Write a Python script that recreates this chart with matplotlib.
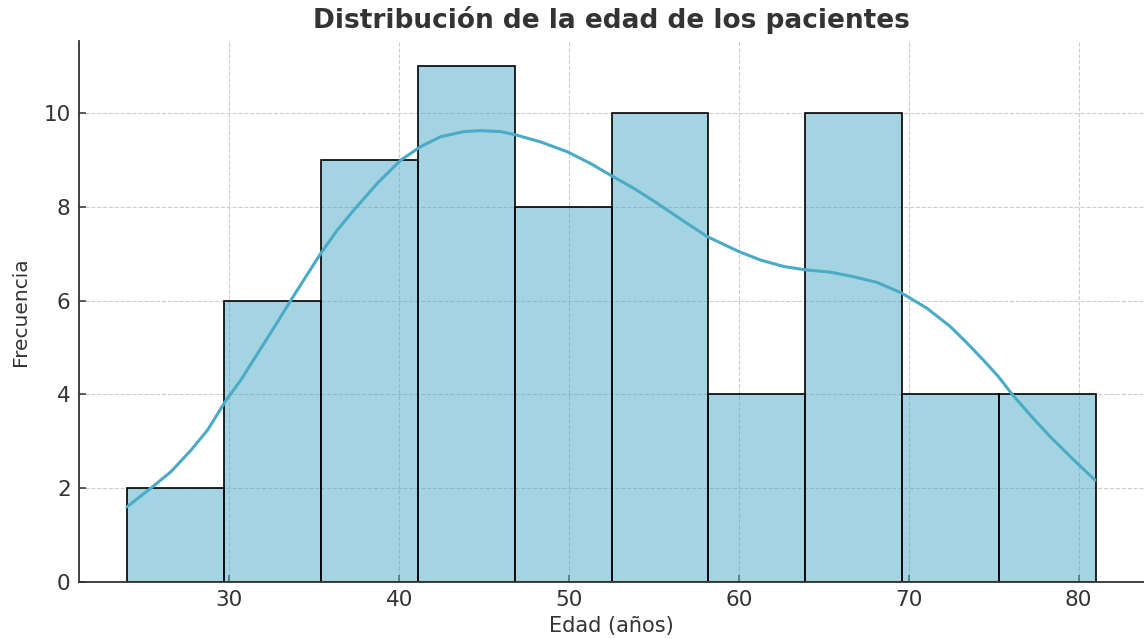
import matplotlib
matplotlib.use('Agg')
import matplotlib.pyplot as plt
import numpy as np

# Histogram data
bin_edges = [24.0, 29.7, 35.4, 41.1, 46.8, 52.5, 58.2, 63.9, 69.6, 75.3, 81.0]
counts = [2, 6, 9, 11, 8, 10, 4, 10, 4, 4]

# KDE curve
kde_x = [23.97, 25.38, 26.56, 27.74, 28.72, 29.74, 30.68, 31.85, 32.84, 33.62,
         34.50, 35.38, 36.36, 37.34, 38.72, 40.09, 41.26, 42.44, 43.81, 44.79,
         45.97, 46.85, 48.32, 49.89, 51.26, 52.44, 53.81, 55.19, 56.66, 58.13,
         59.99, 61.26, 62.64, 63.91, 65.38, 66.65, 68.13, 69.55, 71.07, 72.44,
         73.42, 74.40, 75.28, 76.07, 77.25, 78.32, 79.69, 80.97]
kde_y = [1.60, 2.00, 2.35, 2.81, 3.24, 3.84, 4.31, 4.98, 5.55, 6.01,
         6.51, 7.01, 7.51, 7.94, 8.51, 9.00, 9.29, 9.50, 9.61, 9.63,
         9.61, 9.54, 9.39, 9.18, 8.93, 8.68, 8.40, 8.08, 7.72, 7.37,
         7.05, 6.87, 6.73, 6.66, 6.61, 6.52, 6.39, 6.17, 5.84, 5.45,
         5.10, 4.73, 4.38, 4.01, 3.52, 3.10, 2.61, 2.17]

title = "Distribución de la edad de los pacientes"
x_label = "Edad (años)"
y_label = "Frecuencia"

line_color = '#4babc6'
text_color = '#333333'

fig = plt.figure(figsize=(11.44, 6.39), dpi=100)
ax = fig.add_axes([0.0691, 0.0895, 0.9309, 0.8468])

edges = np.array(bin_edges)
widths = np.diff(edges)
ax.bar(edges[:-1], counts, width=widths, align='edge',
       facecolor=(0.294, 0.671, 0.776, 0.5), edgecolor='black',
       linewidth=1.2, zorder=2)
ax.plot(kde_x, kde_y, color=line_color, linewidth=2.2, zorder=3,
        solid_joinstyle='round', solid_capstyle='round')

ax.set_xlim(21.15, 83.85)
ax.set_ylim(0, 11.55)
ax.set_xticks([30, 40, 50, 60, 70, 80])
ax.set_yticks([0, 2, 4, 6, 8, 10])

ax.grid(True, linestyle='--', color='#cccccc', linewidth=0.8, zorder=0)
ax.set_axisbelow(True)

for side in ['top', 'right']:
    ax.spines[side].set_visible(False)
for side in ['left', 'bottom']:
    ax.spines[side].set_color(text_color)
    ax.spines[side].set_linewidth(1.3)

ax.tick_params(direction='in', length=5, width=1.1, color=text_color,
               labelsize=15.5, labelcolor=text_color, pad=6)

ax.set_title(title, fontsize=19, fontweight='bold', color=text_color, pad=9)
ax.set_xlabel(x_label, fontsize=15, color=text_color, labelpad=4)
ax.set_ylabel(y_label, fontsize=14.5, color=text_color, labelpad=10)

fig.savefig('out.png', dpi=100)
plt.close(fig)
